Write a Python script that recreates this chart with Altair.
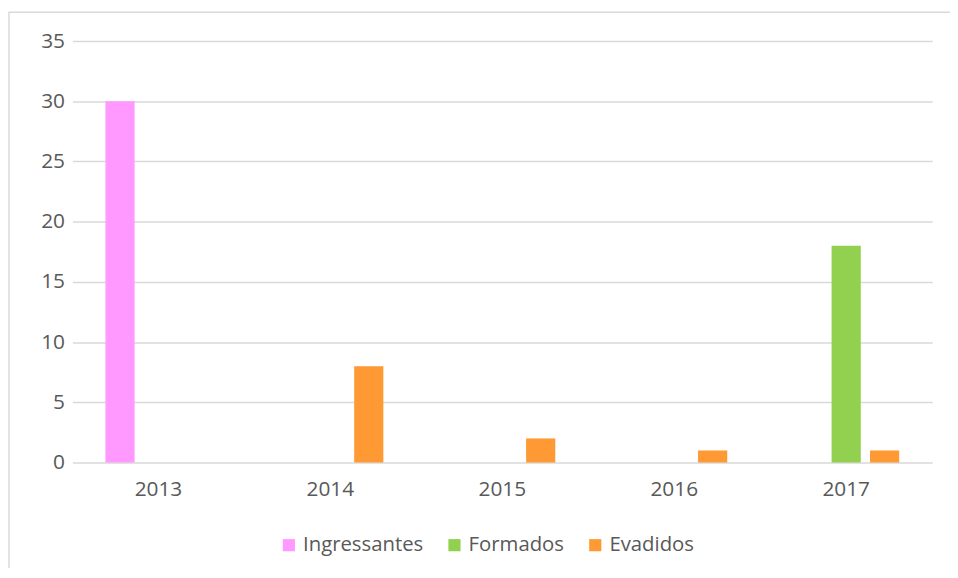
import altair as alt
import pandas as pd

years = ["2013", "2014", "2015", "2016", "2017"]
series = ["Ingressantes", "Formados", "Evadidos"]
ingressantes = [30, 0, 0, 0, 0]
formados = [0, 0, 0, 0, 18]
evadidos = [0, 8, 2, 1, 1]
colors = ["#FF99FF", "#92D050", "#FF9933"]
y_ticks = [0, 5, 10, 15, 20, 25, 30, 35]

rows = []
for name, vals in zip(series, [ingressantes, formados, evadidos]):
    for yr, v in zip(years, vals):
        rows.append({"Ano": yr, "Serie": name, "Valor": v})
df = pd.DataFrame(rows)

FONT = "Open Sans"
TXT = "#595959"
FS = 21
W, H = 867, 425
PL, PT, PR, PB = 65, 31, 18, 104

bars = alt.Chart(df).mark_bar().encode(
    x=alt.X("Ano:N", sort=years, title=None,
            scale=alt.Scale(paddingInner=0.33, paddingOuter=0.165),
            axis=alt.Axis(labelAngle=0, labelFontSize=FS, labelColor=TXT,
                          labelFont=FONT, labelPadding=16, ticks=False, domain=False,
                          grid=False)),
    xOffset=alt.XOffset("Serie:N", sort=series,
                        scale=alt.Scale(paddingInner=0.24, paddingOuter=0.12)),
    y=alt.Y("Valor:Q", title=None,
            scale=alt.Scale(domain=[0, 35], nice=False),
            axis=alt.Axis(values=y_ticks, labelFontSize=FS, labelColor=TXT,
                          labelFont=FONT, labelPadding=8, ticks=False, domain=False,
                          grid=True, gridColor="#D9D9D9", gridWidth=1.5)),
    color=alt.Color("Serie:N", sort=series,
                    scale=alt.Scale(domain=series, range=colors),
                    legend=alt.Legend(title=None, orient="none", direction="horizontal",
                                      legendX=208, legendY=498,
                                      symbolType="square", symbolSize=150,
                                      symbolStrokeWidth=0,
                                      labelFontSize=20.5, labelColor=TXT,
                                      labelFont=FONT, columnPadding=21,
                                      labelOffset=4)),
)

frame = alt.Chart(pd.DataFrame({"a": [0]})).mark_rect(
    fillOpacity=0, stroke="#D9D9D9", strokeWidth=1.5
).encode(
    x=alt.value(1 - PL), x2=alt.value(W + PR + 20),
    y=alt.value(2 - PT), y2=alt.value(H + PB + 20),
)

chart = alt.layer(frame, bars).properties(
    width=W, height=H,
    autosize=alt.AutoSizeParams(type="none"),
    padding={"left": PL, "top": PT, "right": PR, "bottom": PB},
    view=alt.ViewBackground(stroke=None, strokeWidth=0),
).configure_view(strokeWidth=0).configure(background="white")

chart.save("out.html", embed_options={"renderer": "svg", "actions": False})
